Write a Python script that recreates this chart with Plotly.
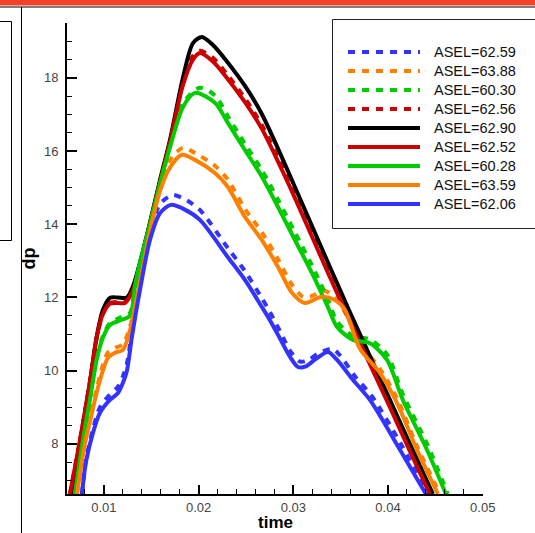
import plotly.graph_objects as go

# ---------------- data ----------------
t_black = [0.00652, 0.00747, 0.00852, 0.00923, 0.00989, 0.01063, 0.01148, 0.01243, 0.01306, 0.01380,
           0.01486, 0.01591, 0.01697, 0.01834, 0.01940, 0.02035, 0.02151, 0.02299, 0.02500, 0.02670,
           0.02850, 0.03020, 0.03370, 0.03580, 0.04020, 0.04231, 0.04474]
dp_black = [6.63, 8.03, 9.67, 10.92, 11.66, 11.99, 12.00, 12.00, 12.30, 12.95,
            14.05, 15.20, 16.30, 18.00, 18.95, 19.12, 18.90, 18.45, 17.74, 17.00,
            16.00, 15.00, 12.93, 11.70, 9.20, 8.00, 6.63]

t_red = [0.00641, 0.00747, 0.00852, 0.00923, 0.00989, 0.01063, 0.01148, 0.01222, 0.01306, 0.01380,
         0.01486, 0.01591, 0.01697, 0.01834, 0.01940, 0.02014, 0.02151, 0.02299, 0.02500, 0.02670,
         0.02850, 0.03020, 0.03370, 0.03580, 0.04020, 0.04231, 0.04442]
dp_red = [6.63, 8.10, 9.70, 10.90, 11.55, 11.83, 11.85, 11.85, 12.20, 12.90,
          14.00, 15.15, 16.25, 17.80, 18.50, 18.68, 18.45, 18.00, 17.30, 16.60,
          15.65, 14.70, 12.65, 11.45, 9.00, 7.80, 6.63]

t_red_d = [0.00641, 0.00747, 0.00852, 0.00923, 0.00989, 0.01063, 0.01148, 0.01222, 0.01306, 0.01380,
           0.01486, 0.01591, 0.01697, 0.01834, 0.01940, 0.02014, 0.02151, 0.02299, 0.02500, 0.02670,
           0.02850, 0.03020, 0.03370, 0.03580, 0.04020, 0.04231, 0.04452]
dp_red_d = [6.63, 8.10, 9.70, 10.90, 11.55, 11.85, 11.88, 11.88, 12.20, 12.90,
            14.00, 15.15, 16.25, 17.85, 18.60, 18.74, 18.55, 18.10, 17.40, 16.70,
            15.75, 14.80, 12.75, 11.55, 9.10, 7.90, 6.63]

t_green = [0.00694, 0.00778, 0.00852, 0.00923, 0.00989, 0.01063, 0.01169, 0.01275, 0.01327, 0.01380,
           0.01486, 0.01591, 0.01697, 0.01834, 0.01961, 0.02172, 0.02309, 0.02489, 0.02668, 0.02837,
           0.03017, 0.03196, 0.03365, 0.03460, 0.03629, 0.03809, 0.03988, 0.04157, 0.04411, 0.04611]
dp_green = [6.63, 8.10, 9.20, 10.30, 10.90, 11.25, 11.37, 11.50, 12.30, 12.95,
            14.00, 15.10, 16.10, 17.20, 17.59, 17.32, 16.77, 16.03, 15.30, 14.48,
            13.57, 12.67, 11.74, 11.20, 10.84, 10.75, 10.30, 9.20, 7.84, 6.63]

t_green_d = [0.00694, 0.00778, 0.00852, 0.00923, 0.00989, 0.01063, 0.01169, 0.01275, 0.01327, 0.01380,
             0.01486, 0.01591, 0.01697, 0.01834, 0.02014, 0.02172, 0.02309, 0.02489, 0.02668, 0.02837,
             0.03017, 0.03196, 0.03365, 0.03460, 0.03629, 0.03809, 0.03988, 0.04157, 0.04421, 0.04630]
dp_green_d = [6.63, 8.10, 9.25, 10.35, 10.95, 11.30, 11.45, 11.58, 12.30, 12.95,
              14.00, 15.10, 16.15, 17.30, 17.73, 17.52, 16.95, 16.20, 15.48, 14.68,
              13.78, 12.88, 11.95, 11.35, 10.95, 10.85, 10.45, 9.35, 7.95, 6.63]

t_orange = [0.00715, 0.00799, 0.00852, 0.00923, 0.00989, 0.01042, 0.01116, 0.01201, 0.01275, 0.01348,
            0.01486, 0.01591, 0.01697, 0.01824, 0.01961, 0.02172, 0.02309, 0.02489, 0.02668, 0.02837,
            0.02985, 0.03122, 0.03302, 0.03439, 0.03545, 0.03703, 0.03914, 0.04094, 0.04305, 0.04527]
dp_orange = [6.63, 8.00, 8.60, 9.40, 10.00, 10.35, 10.49, 10.57, 11.10, 12.00,
             13.80, 14.90, 15.55, 15.90, 15.76, 15.40, 15.02, 14.20, 13.57, 12.84,
             12.13, 11.85, 12.02, 11.93, 11.66, 10.60, 9.94, 9.12, 7.84, 6.63]

t_orange_d = [0.00715, 0.00799, 0.00852, 0.00923, 0.00989, 0.01042, 0.01116, 0.01201, 0.01275, 0.01348,
              0.01486, 0.01591, 0.01697, 0.01834, 0.01961, 0.02172, 0.02309, 0.02489, 0.02668, 0.02837,
              0.02985, 0.03101, 0.03175, 0.03334, 0.03460, 0.03565, 0.03703, 0.03914, 0.04094, 0.04305,
              0.04548]
dp_orange_d = [6.63, 8.05, 8.70, 9.50, 10.15, 10.50, 10.62, 10.72, 11.20, 12.05,
               13.85, 15.00, 15.75, 16.09, 15.95, 15.60, 15.22, 14.42, 13.78, 13.05,
               12.35, 12.02, 12.02, 12.18, 11.95, 11.50, 10.75, 10.05, 9.25, 7.95,
               6.63]

t_blue = [0.00768, 0.00810, 0.00884, 0.00958, 0.01063, 0.01148, 0.01201, 0.01243, 0.01296, 0.01380,
          0.01486, 0.01591, 0.01708, 0.01855, 0.02014, 0.02309, 0.02489, 0.02668, 0.02753, 0.02859,
          0.02964, 0.03049, 0.03133, 0.03228, 0.03365, 0.03460, 0.03629, 0.03809, 0.04126, 0.04400]
dp_blue = [6.63, 7.50, 8.30, 8.85, 9.20, 9.39, 9.67, 10.00, 10.93, 12.20,
           13.57, 14.30, 14.53, 14.40, 14.12, 13.10, 12.48, 11.74, 11.38, 10.88,
           10.38, 10.10, 10.12, 10.30, 10.51, 10.30, 9.75, 9.20, 7.84, 6.63]

t_blue_d = [0.00768, 0.00810, 0.00884, 0.00958, 0.01063, 0.01148, 0.01201, 0.01243, 0.01296, 0.01380,
            0.01486, 0.01591, 0.01729, 0.01876, 0.02014, 0.02309, 0.02489, 0.02668, 0.02753, 0.02859,
            0.02964, 0.03070, 0.03154, 0.03249, 0.03408, 0.03492, 0.03650, 0.03830, 0.04147, 0.04421]
dp_blue_d = [6.63, 7.55, 8.40, 9.00, 9.35, 9.56, 9.85, 10.20, 11.05, 12.30,
             13.75, 14.55, 14.80, 14.65, 14.39, 13.35, 12.72, 11.98, 11.60, 11.08,
             10.55, 10.25, 10.28, 10.45, 10.60, 10.42, 9.85, 9.30, 7.95, 6.63]

labels = ["ASEL=62.59", "ASEL=63.88", "ASEL=60.30", "ASEL=62.56",
          "ASEL=62.90", "ASEL=62.52", "ASEL=60.28", "ASEL=63.59", "ASEL=62.06"]

BLUE = "#3333FF"
ORANGE = "#FF8000"
GREEN = "#00CC00"
RED = "#CC0000"
BLACK = "#000000"
DASH = "7px,7px"

series = [
    (t_blue_d, dp_blue_d, BLUE, DASH),
    (t_orange_d, dp_orange_d, ORANGE, DASH),
    (t_green_d, dp_green_d, GREEN, DASH),
    (t_red_d, dp_red_d, RED, DASH),
    (t_black, dp_black, BLACK, "solid"),
    (t_red, dp_red, RED, "solid"),
    (t_green, dp_green, GREEN, "solid"),
    (t_orange, dp_orange, ORANGE, "solid"),
    (t_blue, dp_blue, BLUE, "solid"),
]

fig = go.Figure()
for (tx, ty, col, dash), name in zip(series, labels):
    fig.add_trace(go.Scatter(x=tx, y=ty, mode="lines", name=name,
                             line=dict(color=col, width=4, dash=dash, shape="spline", smoothing=0.8)))

# ---------------- layout ----------------
W, H = 535, 533
L, R, T, B = 67, 52, 23, 39
PW, PH = W - L - R, H - T - B


def px(x):
    return (x - L) / PW


def py(y):
    return (H - B - y) / PH


shapes = []
# top red band and black rule
shapes.append(dict(type="rect", xref="paper", yref="paper", x0=px(-2), x1=px(W + 2), y0=py(0), y1=py(5.5),
                   fillcolor="#F04328", line=dict(width=0), layer="above"))
shapes.append(dict(type="line", xref="paper", yref="paper", x0=px(-2), x1=px(W + 2), y0=py(7), y1=py(7),
                   line=dict(color="black", width=1)))
# left vertical rule and partial frame
shapes.append(dict(type="line", xref="paper", yref="paper", x0=px(21.5), x1=px(21.5), y0=py(7), y1=py(H + 2),
                   line=dict(color="black", width=1)))
shapes.append(dict(type="rect", xref="paper", yref="paper", x0=px(-3), x1=px(11.5), y0=py(240.5), y1=py(21.5),
                   line=dict(color="black", width=1), fillcolor="rgba(0,0,0,0)"))
# legend frame
shapes.append(dict(type="rect", xref="paper", yref="paper", x0=px(332.5), x1=px(W + 5), y0=py(228.5), y1=py(19.5),
                   line=dict(color="#222222", width=1), fillcolor="white", layer="above"))

annotations = []
for i, ((tx, ty, col, dash), name) in enumerate(zip(series, labels)):
    yc = 52 + i * 19
    shapes.append(dict(type="line", xref="paper", yref="paper", x0=px(348), x1=px(420), y0=py(yc), y1=py(yc),
                       line=dict(color=col, width=4, dash=dash), layer="above"))
    annotations.append(dict(xref="paper", yref="paper", x=px(432), y=py(yc), text=name, showarrow=False,
                            xanchor="left", yanchor="middle",
                            font=dict(family="Liberation Sans, Arial, sans-serif", size=14.5, color="#111111")))

# x-axis title
annotations.append(dict(xref="paper", yref="paper", x=0.5, y=py(522.5), text="<b>time</b>", showarrow=False,
                        xanchor="center", yanchor="middle", borderpad=0,
                        font=dict(family="Liberation Sans, Arial, sans-serif", size=17, color="black")))

fig.update_layout(
    width=W, height=H,
    margin=dict(l=L, r=R, t=T, b=B, pad=0, autoexpand=False),
    plot_bgcolor="white", paper_bgcolor="white",
    showlegend=False,
    font=dict(family="Liberation Sans, Arial, sans-serif", color="#444444"),
    shapes=shapes, annotations=annotations,
    xaxis=dict(range=[0.0061, 0.05003], showline=True, linecolor="black", linewidth=2,
               ticks="inside", ticklen=9, tickwidth=2, tickcolor="black", automargin=False,
               tick0=0, dtick=0.01, tickformat=".2f", showgrid=False, zeroline=False,
               tickfont=dict(size=13, color="#444444"), ticklabelstandoff=0,
               minor=dict(ticks="inside", ticklen=5, tickwidth=1, tickcolor="black", tick0=0, dtick=0.002,
                          showgrid=False)),
    yaxis=dict(range=[6.63, 19.5], showline=True, linecolor="black", linewidth=2,
               ticks="inside", ticklen=10, tickwidth=2, tickcolor="black", automargin=False,
               tick0=0, dtick=2, showgrid=False, zeroline=False,
               tickfont=dict(size=13, color="#444444"), ticklabelstandoff=4,
               minor=dict(ticks="inside", ticklen=5, tickwidth=1, tickcolor="black", tick0=0, dtick=0.5,
                          showgrid=False),
               title=dict(text="<b>dp</b>", font=dict(size=18, color="black"), standoff=4)),
)

fig.write_html("out.html", config={"displayModeBar": False},
               post_script="document.body.style.margin='0px';document.body.style.overflow='hidden';")
